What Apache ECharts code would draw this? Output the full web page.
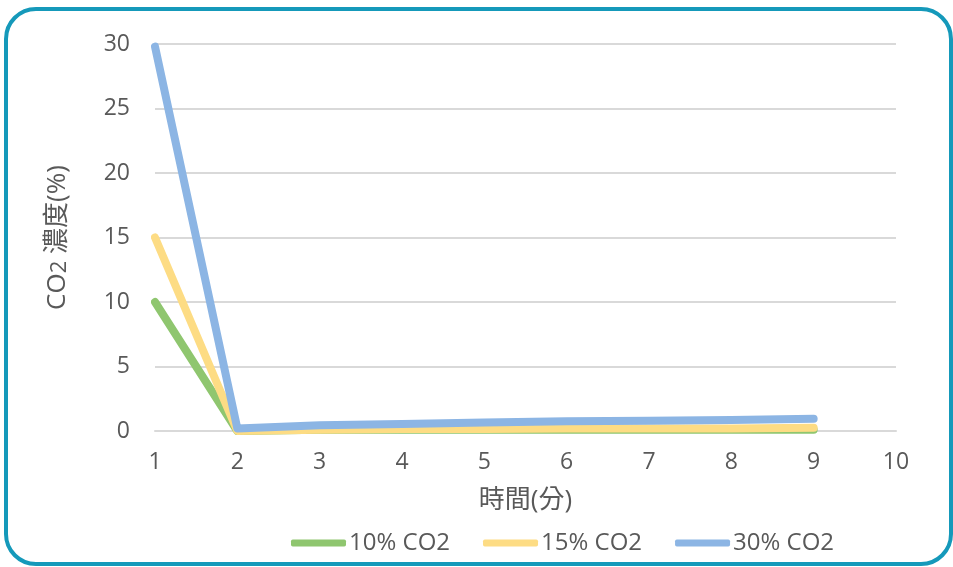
<!DOCTYPE html>
<html><head><meta charset="utf-8">
<script src="https://cdn.jsdelivr.net/npm/echarts@6/dist/echarts.min.js"></script>
<style>html,body{margin:0;padding:0;background:#fff}#c{width:953px;height:567px}</style>
</head><body><div id="c"></div>
<script>
const minutes = [1, 2, 3, 4, 5, 6, 7, 8, 9];
const co2_10 = [10, 0, 0.1, 0.1, 0.1, 0.1, 0.1, 0.1, 0.1];
const co2_15 = [15, 0, 0.1, 0.15, 0.15, 0.2, 0.2, 0.2, 0.25];
const co2_30 = [29.8, 0.2, 0.45, 0.55, 0.65, 0.75, 0.8, 0.85, 0.95];
const seriesNames = ['10% CO2', '15% CO2', '30% CO2'];
const colors = ['#8fc66f', '#fddc84', '#8cb5e4'];
const font = '"Open Sans", "Noto Sans CJK TC", sans-serif';
const txt = '#595959';

const chart = echarts.init(document.getElementById('c'));
const mk = (name, vals, color) => ({
  name, type: 'line', showSymbol: false, symbol: 'none',
  data: minutes.map((m, i) => [m, vals[i]]),
  lineStyle: { width: 8, color, cap: 'round', join: 'round' },
  itemStyle: { color },
  animation: false
});
chart.setOption({
  animation: false,
  color: colors,
  graphic: [{
    type: 'rect', shape: { x: 6, y: 9, width: 945, height: 555, r: 30 },
    style: { fill: 'none', stroke: '#1599ba', lineWidth: 4 }, z: -1
  }],
  grid: { left: 155, right: 57, top: 44, bottom: 136 },
  xAxis: {
    type: 'value', min: 1, max: 10, interval: 1,
    name: '時間(分)', nameLocation: 'middle', nameGap: 57,
    nameTextStyle: { fontSize: 26, color: txt, fontFamily: font },
    axisLine: { lineStyle: { color: '#d9d9d9', width: 2 } },
    axisTick: { show: false },
    splitLine: { show: false },
    axisLabel: { fontSize: 23, color: txt, fontFamily: font, margin: 20 }
  },
  yAxis: {
    type: 'value', min: 0, max: 30, interval: 5,
    name: '{a|CO}{b|2}{a| 濃度(%)}', nameLocation: 'middle', nameGap: 84,
    nameTextStyle: {
      fontSize: 26, color: txt, fontFamily: font,
      rich: {
        a: { fontSize: 26, color: txt, fontFamily: font },
        b: { fontSize: 22, color: txt, fontFamily: font, verticalAlign: 'bottom', padding: [4, 0, 0, 0] }
      }
    },
    axisLine: { show: false }, axisTick: { show: false },
    splitLine: { lineStyle: { color: '#d9d9d9', width: 2 } },
    axisLabel: { fontSize: 23, color: txt, fontFamily: font, margin: 25 }
  },
  legend: {
    bottom: 7, left: 286, itemGap: 33, itemWidth: 55, itemHeight: 7,
    icon: 'roundRect',
    textStyle: { fontSize: 24, color: txt, fontFamily: font, padding: [0, 0, 0, -2] },
    data: seriesNames
  },
  series: [mk(seriesNames[0], co2_10, colors[0]), mk(seriesNames[1], co2_15, colors[1]), mk(seriesNames[2], co2_30, colors[2])]
});
</script></body></html>
